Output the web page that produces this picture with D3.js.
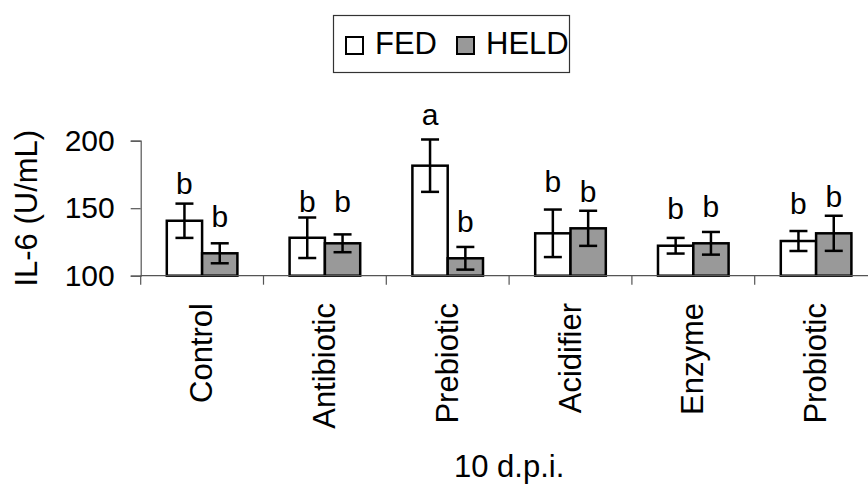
<!DOCTYPE html>
<html>
<head>
<meta charset="utf-8">
<script src="https://cdn.jsdelivr.net/npm/d3@7"></script>
<style>
    body { margin: 0; background: #fff; }
    text { font-family: Arial, "Liberation Sans", sans-serif; fill: #000; }
</style>
</head>
<body>
<div id="chart"></div>
<script>
var categories = ["Control", "Antibiotic", "Prebiotic", "Acidifier", "Enzyme", "Probiotic"];
var groups = ["FED", "HELD"];
var fedMean = [140.7, 128.1, 181.5, 131.4, 122.2, 125.7];
var heldMean = [116.6, 124.0, 112.9, 135.1, 124.0, 131.4];
var fedSE = [12.7, 15.0, 19.4, 17.6, 5.8, 7.4];
var heldSE = [7.4, 6.6, 8.4, 13.0, 8.4, 13.0];
var fedLetters = ["b", "b", "a", "b", "b", "b"];
var heldLetters = ["b", "b", "b", "b", "b", "b"];
// height (in U/mL) where each letter sits
var fedLetterAt = [160.3, 147.4, 211.6, 162.2, 142.0, 145.7];
var heldLetterAt = [135.9, 147.4, 132.6, 154.8, 143.2, 151.1];
var yTicks = [100, 150, 200];

var width = 868, height = 486;
var plotLeft = 140.7, plotRight = 877.5, plotTop = 140.7, plotBottom = 275.7;
var fills = {FED: "#ffffff", HELD: "#999999"};

var rows = [];
categories.forEach(function (c, i) {
    rows.push({cat: c, group: "FED", mean: fedMean[i], se: fedSE[i], letter: fedLetters[i], letterAt: fedLetterAt[i]});
    rows.push({cat: c, group: "HELD", mean: heldMean[i], se: heldSE[i], letter: heldLetters[i], letterAt: heldLetterAt[i]});
});

var svg = d3.select("#chart").append("svg")
    .attr("width", width)
    .attr("height", height);

var x = d3.scaleBand().domain(categories).range([plotLeft, plotRight]).paddingInner(0.425).paddingOuter(0.2125);
var xSub = d3.scaleBand().domain(groups).range([0, x.bandwidth()]);
var y = d3.scaleLinear().domain([100, 200]).range([plotBottom, plotTop]);

// y axis
var yAxis = svg.append("g").attr("transform", "translate(" + plotLeft + ",0)")
    .call(d3.axisLeft(y).tickValues(yTicks).tickSize(10).tickPadding(16));
yAxis.select(".domain").attr("stroke", "#555").attr("stroke-width", 1.2);
yAxis.selectAll(".tick line").attr("stroke", "#555").attr("stroke-width", 1.2);
yAxis.selectAll(".tick text").attr("font-size", 30).attr("font-family", "Arial, 'Liberation Sans', sans-serif").attr("fill", "#000");

svg.append("text")
    .attr("transform", "translate(37," + ((plotTop + plotBottom) / 2) + ") rotate(-90)")
    .attr("text-anchor", "middle")
    .attr("font-size", 31)
    .text("IL-6 (U/mL)");

// bars
var bars = svg.append("g");
bars.selectAll("rect")
    .data(rows)
    .enter().append("rect")
    .attr("x", function (d) { return x(d.cat) + xSub(d.group); })
    .attr("y", function (d) { return y(d.mean); })
    .attr("width", xSub.bandwidth())
    .attr("height", function (d) { return y(100) - y(d.mean); })
    .attr("fill", function (d) { return fills[d.group]; })
    .attr("stroke", "#000")
    .attr("stroke-width", 2.5);

// x axis line and category ticks
svg.append("line")
    .attr("x1", plotLeft).attr("x2", width)
    .attr("y1", plotBottom).attr("y2", plotBottom)
    .attr("stroke", "#555").attr("stroke-width", 1.2);

var bounds = categories.map(function (c) { return x(c) - x.step() * x.paddingInner() / 2; });
svg.selectAll("line.cattick")
    .data(bounds)
    .enter().append("line")
    .attr("class", "cattick")
    .attr("x1", function (d) { return d; }).attr("x2", function (d) { return d; })
    .attr("y1", plotBottom).attr("y2", plotBottom + 9)
    .attr("stroke", "#555").attr("stroke-width", 1.2);

// error bars
var cap = 9;
var err = svg.append("g").attr("stroke", "#000").attr("stroke-width", 2.5);
rows.forEach(function (d) {
    var cx = x(d.cat) + xSub(d.group) + xSub.bandwidth() / 2;
    err.append("line").attr("x1", cx).attr("x2", cx).attr("y1", y(d.mean + d.se)).attr("y2", y(d.mean - d.se));
    err.append("line").attr("x1", cx - cap).attr("x2", cx + cap).attr("y1", y(d.mean + d.se)).attr("y2", y(d.mean + d.se));
    err.append("line").attr("x1", cx - cap).attr("x2", cx + cap).attr("y1", y(d.mean - d.se)).attr("y2", y(d.mean - d.se));
});

// significance letters
svg.selectAll("text.letter")
    .data(rows)
    .enter().append("text")
    .attr("class", "letter")
    .attr("x", function (d) { return x(d.cat) + xSub(d.group) + xSub.bandwidth() / 2; })
    .attr("y", function (d) { return y(d.letterAt); })
    .attr("text-anchor", "middle")
    .attr("font-size", 30)
    .text(function (d) { return d.letter; });

// category labels
svg.selectAll("text.cat")
    .data(categories)
    .enter().append("text")
    .attr("class", "cat")
    .attr("transform", function (d) { return "translate(" + (x(d) + x.bandwidth() / 2 + 10) + ",303) rotate(-90)"; })
    .attr("text-anchor", "end")
    .attr("font-size", 31)
    .text(function (d) { return d; });

svg.append("text")
    .attr("x", (plotLeft + plotRight) / 2)
    .attr("y", 477)
    .attr("text-anchor", "middle")
    .attr("font-size", 31)
    .text("10 d.p.i.");

// legend
var legend = svg.append("g");
legend.append("rect")
    .attr("x", 333.5).attr("y", 15.5).attr("width", 236).attr("height", 57)
    .attr("fill", "#fff").attr("stroke", "#333").attr("stroke-width", 1.2);
var legX = {FED: 346, HELD: 457};
groups.forEach(function (g) {
    legend.append("rect")
        .attr("x", legX[g]).attr("y", 37).attr("width", 17).attr("height", 17)
        .attr("fill", fills[g]).attr("stroke", "#000").attr("stroke-width", 2);
    legend.append("text")
        .attr("x", legX[g] + 29).attr("y", 54)
        .attr("font-size", 31)
        .text(g);
});
</script>
</body>
</html>
